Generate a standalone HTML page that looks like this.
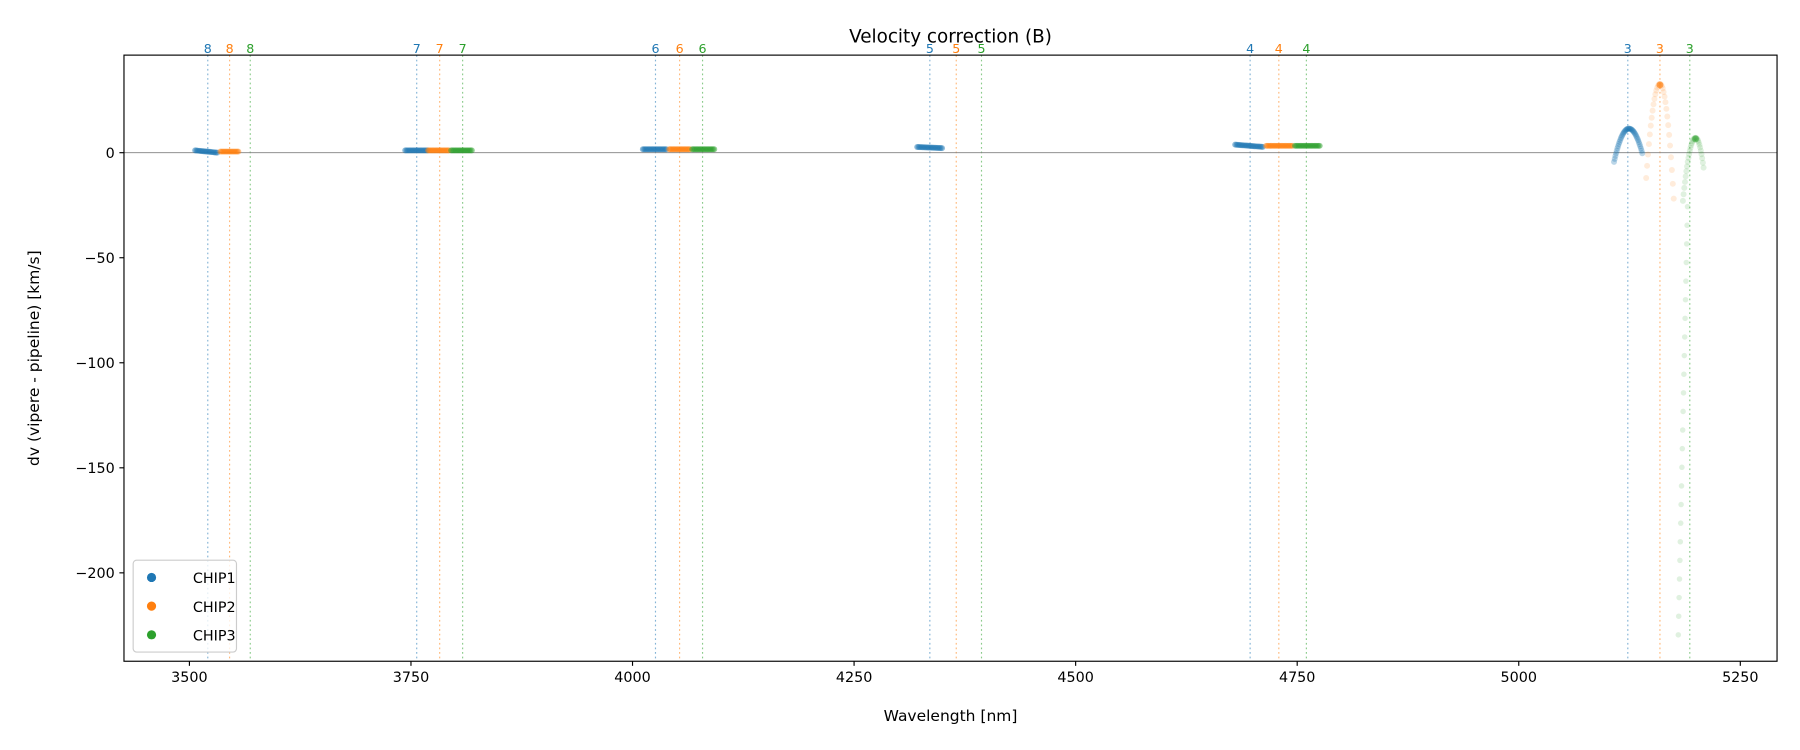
<!DOCTYPE html>
<html><head><meta charset="utf-8"><style>html,body{margin:0;padding:0;background:#fff}svg{display:block}text{font-family:"DejaVu Sans","Liberation Sans",sans-serif}</style></head>
<body>
<svg id="s" width="1800" height="750" viewBox="0 0 1568 653.3" xmlns="http://www.w3.org/2000/svg">
<rect width="1568" height="654" fill="#fff"/>
<g id="lines"></g>
<line x1="108" y1="133" x2="1548" y2="133" stroke="#808080" stroke-width="0.8"/>
<g id="pts"></g>
<rect x="108" y="48" width="1440" height="528" fill="none" stroke="#000" stroke-width="1"/>
<g id="ticks" font-size="12.5" fill="#000"></g>
<text x="828" y="37" font-size="16" text-anchor="middle">Velocity correction (B)</text>
<text x="828" y="628" font-size="13.5" text-anchor="middle">Wavelength [nm]</text>
<text transform="translate(34,312) rotate(-90)" font-size="13.5" text-anchor="middle">dv (vipere - pipeline) [km/s]</text>
<rect x="116" y="488" width="90" height="80" rx="3" fill="#fff" fill-opacity="0.8" stroke="#ccc"/>
<circle cx="132" cy="503" r="4" fill="#1f77b4"/><text x="168" y="508" font-size="12.5">CHIP1</text>
<circle cx="132" cy="528" r="4" fill="#ff7f0e"/><text x="168" y="533" font-size="12.5">CHIP2</text>
<circle cx="132" cy="553" r="4" fill="#2ca02c"/><text x="168" y="558" font-size="12.5">CHIP3</text>
</svg>
<script>
const NS="http://www.w3.org/2000/svg";
const C=["#1f77b4","#ff7f0e","#2ca02c"];
function el(p,t,a,txt){const e=document.createElementNS(NS,t);for(const k in a)e.setAttribute(k,a[k]);if(txt!==undefined)e.textContent=txt;p.appendChild(e);return e;}
const L=document.getElementById("lines"),P=document.getElementById("pts"),T=document.getElementById("ticks");
const vl=[[8,[181,200,218]],[7,[363,383,403]],[6,[571,592,612]],[5,[810,833,855]],[4,[1089,1114,1138]],[3,[1418,1446,1472]]];
vl.forEach(([n,xs])=>xs.forEach((x,i)=>{el(L,"line",{x1:x,y1:48,x2:x,y2:576,stroke:C[i],"stroke-width":1,"stroke-dasharray":"1.5,2.5","stroke-opacity":0.55});
el(T,"text",{x:x,y:46,"font-size":11,fill:C[i],"text-anchor":"middle"},n);}));
// x ticks
for(let v=3500;v<=5250;v+=250){const x=165+(v-3500)*0.772;el(T,"line",{x1:x,y1:576,x2:x,y2:580,stroke:"#000"});el(T,"text",{x:x,y:594,"text-anchor":"middle"},v);}
for(let v=0;v>=-200;v-=50){const y=133-v*1.83;el(T,"line",{x1:104,y1:y,x2:108,y2:y,stroke:"#000"});el(T,"text",{x:100,y:y+4.5,"text-anchor":"end"},v==0?"0":"\u2212"+(-v));}
function seg(x0,x1,y0,y1,c,op){for(let x=x0;x<=x1;x+=1.2){el(P,"circle",{cx:x,cy:y0+(y1-y0)*(x-x0)/(x1-x0),r:2.6,fill:c,"fill-opacity":op});}}
const segs=[[170,190,131,133,0],[192,208,132,132,1],[353,373,131,131,0],[373,392,131,131,1],[393,412,131,131,2],[560,581,130,130,0],[583,602,130,130,1],[603,623,130,130,2],[799,821,128,129,0],[1076,1101,126,128,0],[1103,1127,127,127,1],[1128,1150,127,127,2]];
segs.forEach(s=>seg(s[0],s[1],s[2],s[3],C[s[4]],0.5));
function arc(x0,xp,x1,yl,yp,yr,c,op,step){for(let x=x0;x<=x1;x+=step){let t,y;if(x<=xp){t=(xp-x)/(xp-x0);y=yp+(yl-yp)*t*t;}else{t=(x-xp)/(x1-xp);y=yp+(yr-yp)*t*t;}el(P,"circle",{cx:x,cy:y,r:2.6,fill:c,"fill-opacity":op});}}
arc(1406,1419,1431,141,112,135,C[0],0.3,0.6);
arc(1434,1446,1458,155,73,173,C[1],0.15,0.8);
el(P,"circle",{cx:1446,cy:74,r:3,fill:C[1],"fill-opacity":0.6});
arc(1466,1477,1484,175,120,146,C[2],0.15,0.6);
for(let i=0;i<24;i++){const t=i/23;el(P,"circle",{cx:1470-t*8,cy:180+t*373,r:2.4,fill:C[2],"fill-opacity":0.15});}
el(P,"circle",{cx:1477,cy:121,r:3,fill:C[2],"fill-opacity":0.5});
</script>
</body></html>
